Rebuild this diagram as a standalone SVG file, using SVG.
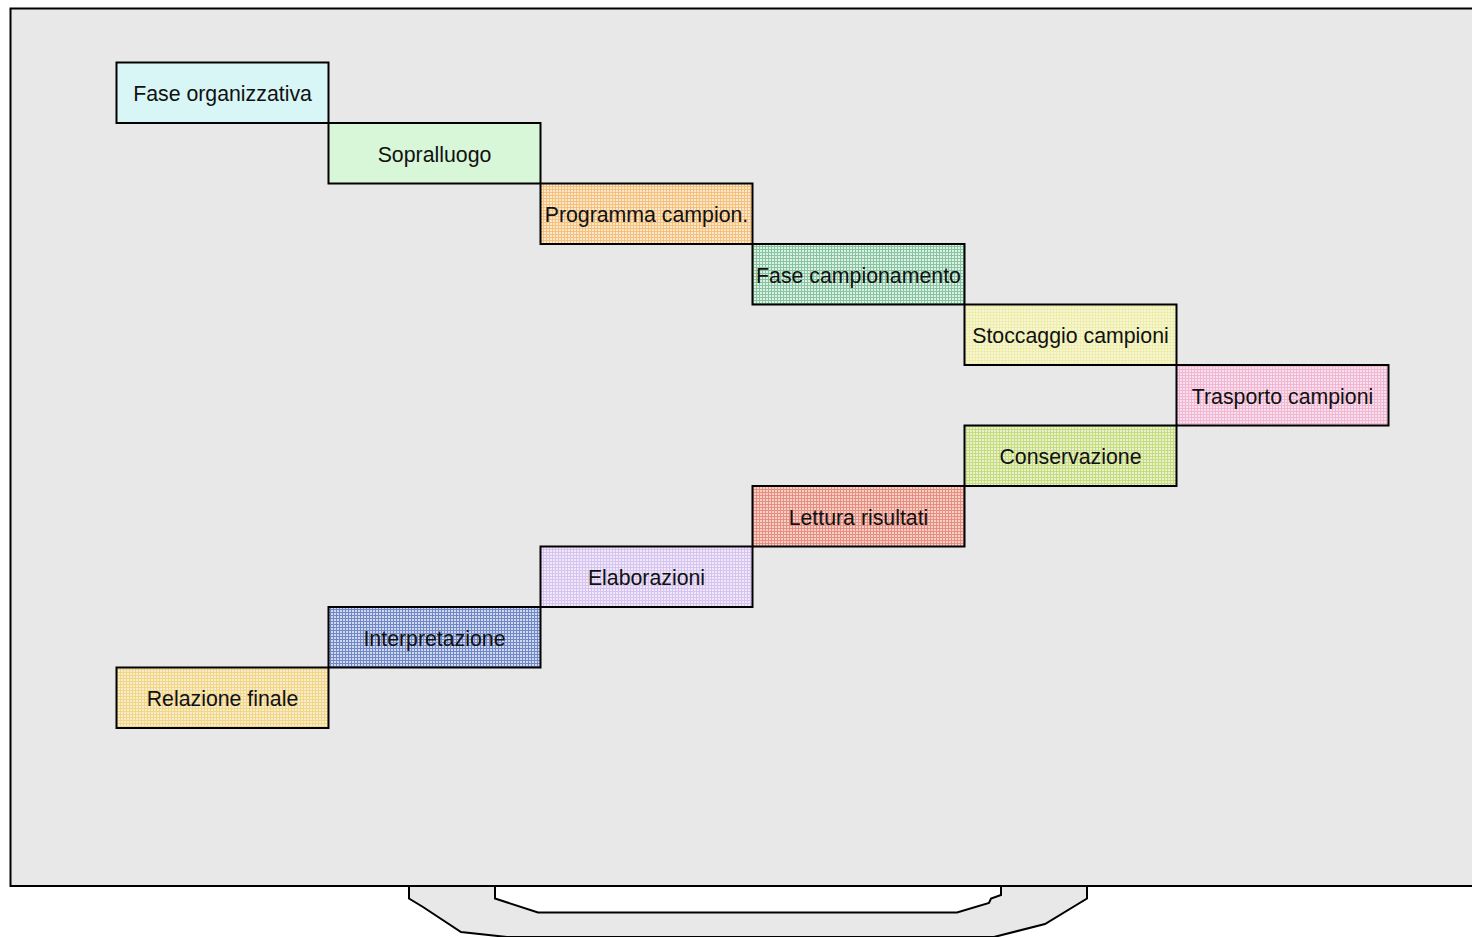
<svg xmlns="http://www.w3.org/2000/svg" width="1472" height="937" viewBox="0 0 1472 937">
<style>
.box{stroke:#000;stroke-width:2}
.lbl{font-family:"Liberation Sans",Arial,sans-serif;font-size:21.3px;fill:#111;text-anchor:middle}
</style>
<defs>
<pattern id="pOr" width="3" height="3" patternUnits="userSpaceOnUse"><rect width="3" height="3" fill="#fbe8cc"/><path d="M0 0.5H3M0.5 0V3" stroke="#f5c07c" stroke-width="1"/></pattern>
<pattern id="pTe" width="3" height="3" patternUnits="userSpaceOnUse"><rect width="3" height="3" fill="#dcf0e4"/><path d="M0 0.5H3M0.5 0V3" stroke="#88c4a2" stroke-width="1"/></pattern>
<pattern id="pYe" width="3" height="3" patternUnits="userSpaceOnUse"><rect width="3" height="3" fill="#f6f6d6"/><path d="M0 0.5H3M0.5 0V3" stroke="#eeeea8" stroke-width="1"/></pattern>
<pattern id="pPk" width="3" height="3" patternUnits="userSpaceOnUse"><rect width="3" height="3" fill="#f8e0ec"/><path d="M0 0.5H3M0.5 0V3" stroke="#f0b6d2" stroke-width="1"/></pattern>
<pattern id="pLi" width="3" height="3" patternUnits="userSpaceOnUse"><rect width="3" height="3" fill="#e8f0cc"/><path d="M0 0.5H3M0.5 0V3" stroke="#c6dc80" stroke-width="1"/></pattern>
<pattern id="pRe" width="3" height="3" patternUnits="userSpaceOnUse"><rect width="3" height="3" fill="#f4d0c8"/><path d="M0 0.5H3M0.5 0V3" stroke="#e88e80" stroke-width="1"/></pattern>
<pattern id="pLa" width="3" height="3" patternUnits="userSpaceOnUse"><rect width="3" height="3" fill="#f0e8f8"/><path d="M0 0.5H3M0.5 0V3" stroke="#d6c4f0" stroke-width="1"/></pattern>
<pattern id="pBl" width="3" height="3" patternUnits="userSpaceOnUse"><rect width="3" height="3" fill="#d0d8ee"/><path d="M0 0.5H3M0.5 0V3" stroke="#7088c8" stroke-width="1"/></pattern>
<pattern id="pGo" width="3" height="3" patternUnits="userSpaceOnUse"><rect width="3" height="3" fill="#f6ecd4"/><path d="M0 0.5H3M0.5 0V3" stroke="#f2d680" stroke-width="1"/></pattern>
</defs>
<rect width="1472" height="937" fill="#fff"/>
<g id="stand">
<path d="M409 886V898.5L423 907L461 932L507 937H994L1045 924L1087 898.5V886Z" fill="#e8e8e8" stroke="#000" stroke-width="2"/>
<path d="M495 886V898.5L538 912.5H957L989 903L991 898.5L1001 895V886Z" fill="#fff" stroke="#000" stroke-width="2"/>
</g>
<rect id="frame" x="10.5" y="8.5" width="1470" height="877.5" fill="#e8e8e8" stroke="#000" stroke-width="2"/>
<g id="connectors"></g>
<g id="n1"><rect class="box" x="116.5" y="62.5" width="212" height="60.5" fill="#d8f6f6"/><text class="lbl" x="222.5" y="101">Fase organizzativa</text></g>
<g id="n2"><rect class="box" x="328.5" y="123" width="212" height="60.5" fill="#d8f6d8"/><text class="lbl" x="434.5" y="161.5">Sopralluogo</text></g>
<g id="n3"><rect class="box" x="540.5" y="183.5" width="212" height="60.5" fill="url(#pOr)"/><text class="lbl" x="646.5" y="222">Programma campion.</text></g>
<g id="n4"><rect class="box" x="752.5" y="244" width="212" height="60.5" fill="url(#pTe)"/><text class="lbl" x="858.5" y="282.5">Fase campionamento</text></g>
<g id="n5"><rect class="box" x="964.5" y="304.5" width="212" height="60.5" fill="url(#pYe)"/><text class="lbl" x="1070.5" y="343">Stoccaggio campioni</text></g>
<g id="n6"><rect class="box" x="1176.5" y="365" width="212" height="60.5" fill="url(#pPk)"/><text class="lbl" x="1282.5" y="403.5">Trasporto campioni</text></g>
<g id="n7"><rect class="box" x="964.5" y="425.5" width="212" height="60.5" fill="url(#pLi)"/><text class="lbl" x="1070.5" y="464">Conservazione</text></g>
<g id="n8"><rect class="box" x="752.5" y="486" width="212" height="60.5" fill="url(#pRe)"/><text class="lbl" x="858.5" y="524.5">Lettura risultati</text></g>
<g id="n9"><rect class="box" x="540.5" y="546.5" width="212" height="60.5" fill="url(#pLa)"/><text class="lbl" x="646.5" y="585">Elaborazioni</text></g>
<g id="n10"><rect class="box" x="328.5" y="607" width="212" height="60.5" fill="url(#pBl)"/><text class="lbl" x="434.5" y="645.5">Interpretazione</text></g>
<g id="n11"><rect class="box" x="116.5" y="667.5" width="212" height="60.5" fill="url(#pGo)"/><text class="lbl" x="222.5" y="706">Relazione finale</text></g>
</svg>
